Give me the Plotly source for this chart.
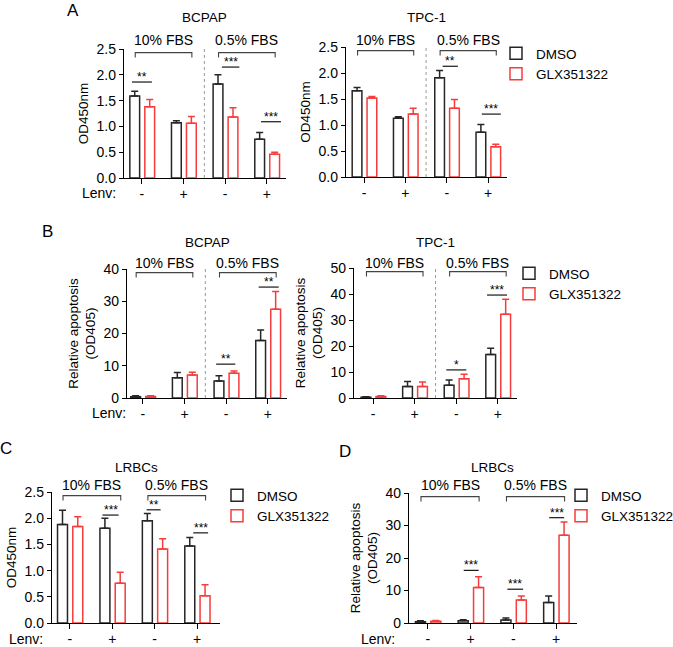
import plotly.graph_objects as go

# Tamanho da figura em pixels
W, H = 673, 647

lenv = ['-', '+', '-', '+']
series = ['DMSO', 'GLX351322']

# A - BCPAP (OD450nm)
a_bcpap_dmso = [1.59, 1.07, 1.82, 0.75]
a_bcpap_dmso_err = [0.09, 0.04, 0.18, 0.13]
a_bcpap_glx = [1.38, 1.06, 1.18, 0.46]
a_bcpap_glx_err = [0.14, 0.13, 0.18, 0.04]

# A - TPC-1 (OD450nm)
a_tpc_dmso = [1.66, 1.13, 1.91, 0.86]
a_tpc_dmso_err = [0.06, 0.03, 0.14, 0.15]
a_tpc_glx = [1.52, 1.21, 1.32, 0.58]
a_tpc_glx_err = [0.03, 0.11, 0.17, 0.05]

# B - BCPAP (apoptose relativa)
b_bcpap_dmso = [0.4, 6.3, 5.3, 17.8]
b_bcpap_dmso_err = [0.3, 1.6, 1.6, 3.3]
b_bcpap_glx = [0.5, 7.1, 7.7, 27.5]
b_bcpap_glx_err = [0.2, 0.9, 0.7, 5.5]

# B - TPC-1 (apoptose relativa)
b_tpc_dmso = [0.3, 4.4, 4.9, 16.7]
b_tpc_dmso_err = [0.2, 1.9, 2.0, 2.4]
b_tpc_glx = [0.6, 4.4, 7.4, 32.2]
b_tpc_glx_err = [0.3, 1.8, 1.7, 5.8]

# C - LRBCs (OD450nm)
c_dmso = [1.88, 1.81, 1.95, 1.47]
c_dmso_err = [0.27, 0.19, 0.14, 0.16]
c_glx = [1.84, 0.76, 1.41, 0.52]
c_glx_err = [0.19, 0.21, 0.20, 0.21]

# D - LRBCs (apoptose relativa)
d_dmso = [0.4, 0.7, 0.9, 6.3]
d_dmso_err = [0.3, 0.3, 0.6, 2.0]
d_glx = [0.5, 10.9, 7.1, 27.0]
d_glx_err = [0.3, 3.3, 1.2, 4.1]

# Significancia: (grupo, nivel, rotulo, esquerda, direita)
sig_a_bcpap = [(0, 1.86, '**', -0.24, 0.24), (2, 2.15, '***', -0.08, 0.34), (3, 1.09, '***', -0.14, 0.34)]
sig_a_tpc = [(2, 2.13, '**', -0.10, 0.27), (3, 1.21, '***', -0.15, 0.31)]
sig_b_bcpap = [(2, 10.5, '**', -0.24, 0.22), (3, 34.4, '**', -0.22, 0.26)]
sig_b_tpc = [(2, 10.8, '*', -0.24, 0.24), (3, 39.6, '***', -0.26, 0.22)]
sig_c = [(1, 2.06, '***', -0.23, 0.15), (2, 2.16, '**', -0.19, 0.14), (3, 1.72, '***', -0.09, 0.26)]
sig_d = [(1, 16.2, '***', -0.16, 0.19), (2, 10.4, '***', -0.14, 0.23), (3, 32.4, '***', -0.16, 0.19)]

PRETO = '#262626'
VERMELHO = '#f63c3c'
FONTE = 'Arial, Liberation Sans, sans-serif'

# Cada painel: caixa em pixels (esq, topo, dir, base), faixa x, maximo y
paineis = [
    dict(box=(124, 49, 286, 178), xr=[-0.43, 3.46], ymax=2.5, dtick=0.5, fmt='.1f',
         titulo='BCPAP', ty=17, fy=40, ytit='OD450nm', lenv=(118, 193), sep=True,
         letra=('A', 73, 10), legenda=(496, 64),
         dados=(a_bcpap_dmso, a_bcpap_dmso_err, a_bcpap_glx, a_bcpap_glx_err), sig=sig_a_bcpap),
    dict(box=(346, 47, 507, 177), xr=[-0.44, 3.46], ymax=2.5, dtick=0.5, fmt='.1f',
         titulo='TPC-1', ty=17, fy=40, ytit='OD450nm', lenv=None, sep=True, letra=None, legenda=None,
         dados=(a_tpc_dmso, a_tpc_dmso_err, a_tpc_glx, a_tpc_glx_err), sig=sig_a_tpc),
    dict(box=(127, 269, 287, 398), xr=[-0.38, 3.46], ymax=40, dtick=10, fmt='d',
         titulo='BCPAP', ty=243, fy=263, ytit='Relative apoptosis<br>(OD405)', lenv=(128, 413), sep=True,
         letra=('B', 47, 231), legenda=(509, 284),
         dados=(b_bcpap_dmso, b_bcpap_dmso_err, b_bcpap_glx, b_bcpap_glx_err), sig=sig_b_bcpap),
    dict(box=(354, 268, 517, 398), xr=[-0.46, 3.46], ymax=50, dtick=10, fmt='d',
         titulo='TPC-1', ty=243, fy=263, ytit='Relative apoptosis<br>(OD405)', lenv=None, sep=True,
         letra=None, legenda=None,
         dados=(b_tpc_dmso, b_tpc_dmso_err, b_tpc_glx, b_tpc_glx_err), sig=sig_b_tpc),
    dict(box=(52, 492, 220, 623), xr=[-0.42, 3.54], ymax=2.5, dtick=0.5, fmt='.1f',
         titulo='LRBCs', ty=467, fy=485, ytit='OD450nm', lenv=(45, 639), sep=False,
         letra=('C', 6, 448), legenda=(217, 506),
         dados=(c_dmso, c_dmso_err, c_glx, c_glx_err), sig=sig_c),
    dict(box=(409, 493, 577, 623), xr=[-0.44, 3.49], ymax=40, dtick=10, fmt='d',
         titulo='LRBCs', ty=467, fy=485, ytit='Relative apoptosis<br>(OD405)', lenv=(397, 639), sep=False,
         letra=('D', 345, 451), legenda=(561, 506),
         dados=(d_dmso, d_dmso_err, d_glx, d_glx_err), sig=sig_d),
]


def px_x(v):
    return v / W


def px_y(v):
    return 1 - v / H


fig = go.Figure()
nomes_legenda = ['legend', 'legend2', 'legend3', 'legend4']
n_leg = 0

for i, p in enumerate(paineis, start=1):
    xa = 'x' if i == 1 else f'x{i}'
    ya = 'y' if i == 1 else f'y{i}'
    esq, topo, dir_, base = p['box']
    dmso, dmso_err, glx, glx_err = p['dados']

    leg = None
    if p['legenda']:
        leg = nomes_legenda[n_leg]
        n_leg += 1

    for nome, vals, errs, cor, off in [(series[0], dmso, dmso_err, PRETO, -0.29),
                                       (series[1], glx, glx_err, VERMELHO, 0.07)]:
        fig.add_trace(go.Bar(
            x=list(range(4)), y=vals, name=nome, xaxis=xa, yaxis=ya,
            width=0.235, offset=off,
            marker=dict(color='rgba(255,255,255,0)', line=dict(color=cor, width=1.5)),
            error_y=dict(type='data', symmetric=False, array=errs, arrayminus=[0] * 4,
                         color=cor, thickness=1.5, width=3.5),
            showlegend=leg is not None, legend=leg if leg else 'legend',
        ))

    eixo_x = dict(domain=[px_x(esq), px_x(dir_)], anchor=ya, range=p['xr'], automargin=False,
                  tickvals=list(range(4)), ticktext=lenv, ticks='outside', ticklen=5,
                  tickwidth=1.3, tickcolor='black', showline=True, linecolor='black', linewidth=1.3,
                  showgrid=False, zeroline=False, tickfont=dict(size=14, color='black'),
                  ticklabelstandoff=-2)
    eixo_y = dict(domain=[px_y(base), px_y(topo)], anchor=xa, range=[0, p['ymax']], automargin=False,
                  dtick=p['dtick'], tickformat=p['fmt'], ticks='outside', ticklen=4,
                  tickwidth=1.3, tickcolor='black', showline=True, linecolor='black', linewidth=1.3,
                  showgrid=False, zeroline=False, tickfont=dict(size=14, color='black'),
                  title=dict(text=p['ytit'], font=dict(size=13.5, color='black'), standoff=4))
    fig.update_layout({('xaxis' if i == 1 else f'xaxis{i}'): eixo_x,
                       ('yaxis' if i == 1 else f'yaxis{i}'): eixo_y})

    # titulo do painel
    fig.add_annotation(text=p['titulo'], xref='paper', yref='paper',
                       x=px_x((esq + dir_) / 2), y=px_y(p['ty']), showarrow=False,
                       font=dict(size=13.5, color='black'), xanchor='center', yanchor='middle')

    # colchetes de FBS
    for rotulo, g0, g1 in [('10% FBS', 0, 1), ('0.5% FBS', 2, 3)]:
        a, b = g0 - 0.16, g1 + 0.2
        fig.add_shape(type='path', xref=xa, yref=f'{ya} domain',
                      path=f'M {a},0.935 L {a},0.972 L {b},0.972 L {b},0.935',
                      line=dict(color='#444444', width=1.1))
        fig.add_annotation(text=rotulo, xref=xa, yref='paper', x=(a + b) / 2, y=px_y(p['fy']),
                           showarrow=False, xanchor='center', yanchor='middle',
                           font=dict(size=14, color='black'))

    # separador pontilhado entre 10% e 0.5%
    if p['sep']:
        fig.add_shape(type='line', xref=xa, yref=f'{ya} domain', x0=1.5, x1=1.5, y0=0, y1=1,
                      line=dict(color='#9a9a9a', width=1, dash='dot'))

    # linhas de significancia
    for g, nivel, estrelas, l, r in p['sig']:
        fig.add_shape(type='line', xref=xa, yref=ya, x0=g + l, x1=g + r, y0=nivel, y1=nivel,
                      line=dict(color='black', width=1.1))
        fig.add_annotation(text=estrelas, xref=xa, yref=ya, x=g + (l + r) / 2, y=nivel,
                           xanchor='center', yanchor='bottom', yshift=-4, showarrow=False,
                           font=dict(size=12, color='black'))

    if p['lenv']:
        fig.add_annotation(text='Lenv:', xref='paper', yref='paper', x=px_x(p['lenv'][0]),
                           y=px_y(p['lenv'][1]), xanchor='right', yanchor='middle',
                           showarrow=False, font=dict(size=14, color='black'))

    if p['letra']:
        t, lx, ly = p['letra']
        fig.add_annotation(text=t, xref='paper', yref='paper', x=px_x(lx), y=px_y(ly),
                           xanchor='center', yanchor='middle', showarrow=False,
                           font=dict(size=17, color='black'))

    if leg:
        lx, ly = p['legenda']
        fig.update_layout({leg: dict(x=px_x(lx), y=px_y(ly), xanchor='left', yanchor='middle',
                                     font=dict(size=13.5, color='black'), bgcolor='rgba(0,0,0,0)',
                                     tracegroupgap=0, borderwidth=0)})

fig.update_layout(width=W, height=H, margin=dict(l=0, r=0, t=0, b=0, autoexpand=False),
                  plot_bgcolor='white', paper_bgcolor='white', barmode='overlay',
                  font=dict(family=FONTE, color='black'))

# remove a margem padrao do <body> para a figura ocupar a janela inteira
fig.write_html('out.html', config={'displayModeBar': False},
               post_script="document.body.style.margin='0';")
